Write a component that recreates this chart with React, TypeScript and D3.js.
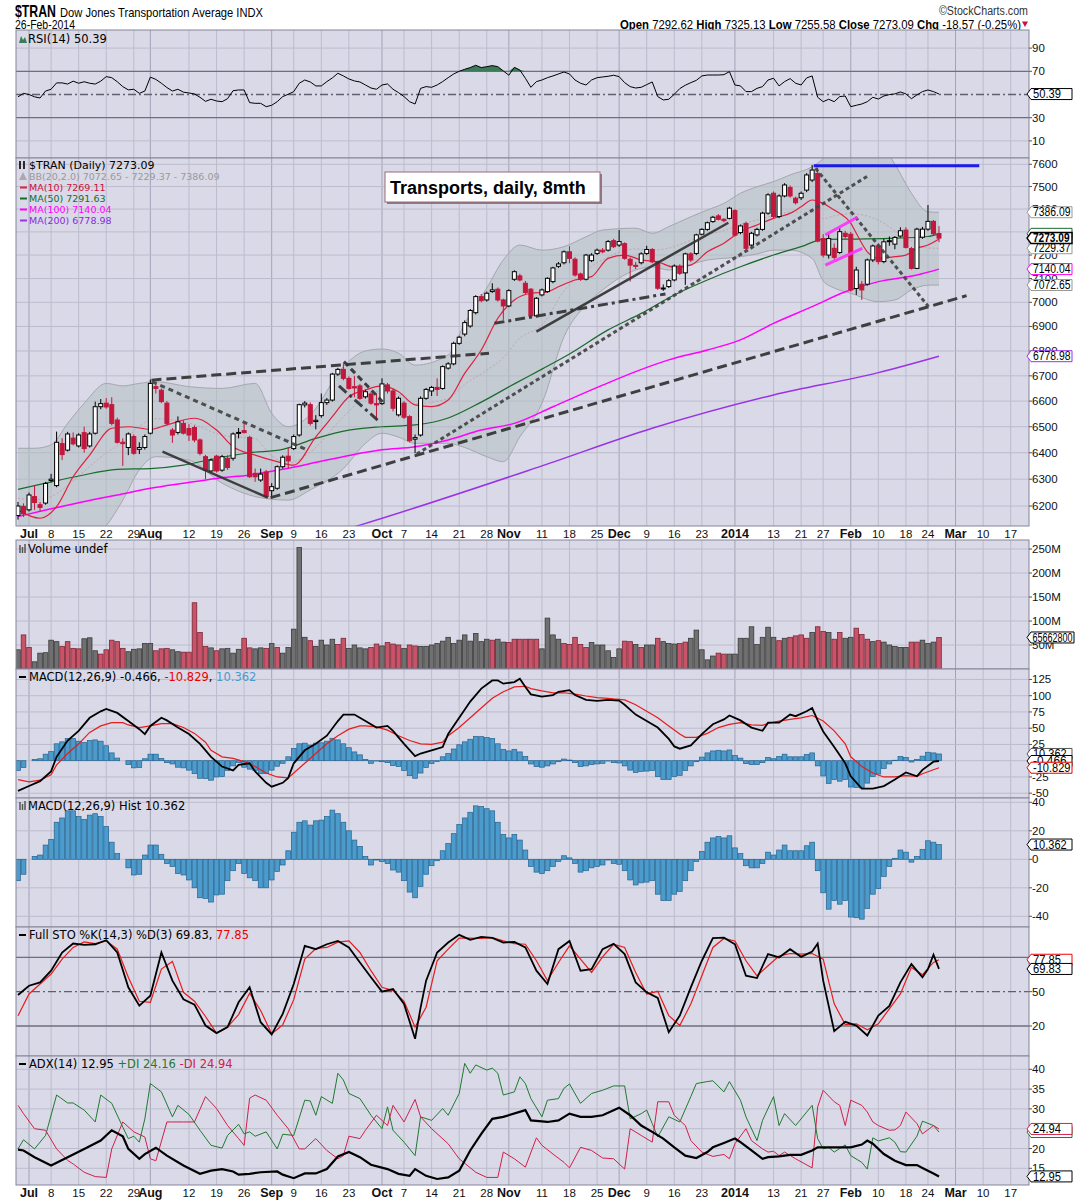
import React from 'react';
import * as d3 from 'd3';

// ---------------- calendar (session 0 = 2013-07-01) ----------------
const HOLIDAYS = ['2013-07-04', '2013-09-02', '2013-11-28', '2013-12-25', '2014-01-01', '2014-01-20', '2014-02-17'];
const fmt = d3.timeFormat('%Y-%m-%d');
const tradingDays: string[] = d3.timeDay
  .range(new Date(2013, 5, 27), new Date(2014, 2, 22))
  .filter((d) => d.getDay() !== 0 && d.getDay() !== 6 && !HOLIDAYS.includes(fmt(d)))
  .map((d) => fmt(d));
const sessionOf = (date: string) => tradingDays.indexOf(date) - 2;

// ---------------- x-axis ticks ----------------
const tickDates = ['2013-07-01', '2013-07-08', '2013-07-15', '2013-07-22', '2013-07-29', '2013-08-01', '2013-08-12', '2013-08-19', '2013-08-26', '2013-09-03', '2013-09-09', '2013-09-16', '2013-09-23', '2013-10-01', '2013-10-07', '2013-10-14', '2013-10-21', '2013-10-28', '2013-11-01', '2013-11-11', '2013-11-18', '2013-11-25', '2013-12-02', '2013-12-09', '2013-12-16', '2013-12-23', '2014-01-02', '2014-01-13', '2014-01-21', '2014-01-27', '2014-02-03', '2014-02-10', '2014-02-18', '2014-02-24', '2014-03-03', '2014-03-10', '2014-03-17'];
const tickLabels = ['Jul', '8', '15', '22', '29', 'Aug', '12', '19', '26', 'Sep', '9', '16', '23', 'Oct', '7', '14', '21', '28', 'Nov', '11', '18', '25', 'Dec', '9', '16', '23', '2014', '13', '21', '27', 'Feb', '10', '18', '24', 'Mar', '10', '17'];

// ---------------- daily OHLC (sessions -2 .. 165) ----------------
const opens = [
  6165, 6199, 6186, 6235, 6205, 6211, 6295, 6276, 6435, 6410,
  6456, 6426, 6477, 6426, 6475, 6578, 6592, 6586, 6526, 6440,
  6420, 6462, 6413, 6420, 6475, 6657, 6643, 6592, 6487, 6478,
  6513, 6493, 6497, 6449, 6385, 6331, 6387, 6334, 6379, 6379,
  6475, 6485, 6459, 6322, 6297, 6327, 6257, 6266, 6347, 6387,
  6416, 6468, 6585, 6586, 6520, 6543, 6594, 6604, 6707, 6726,
  6690, 6657, 6660, 6617, 6628, 6590, 6590, 6664, 6640, 6546,
  6592, 6539, 6452, 6468, 6611, 6640, 6654, 6650, 6731, 6748,
  6831, 6869, 6902, 6957, 7024, 7010, 7045, 7055, 7010, 6985,
  7097, 7111, 7080, 7055, 6944, 7031, 7045, 7087, 7152, 7167,
  7214, 7182, 7119, 7097, 7176, 7207, 7221, 7221, 7262, 7243,
  7249, 7182, 7156, 7167, 7207, 7224, 7171, 7057, 7066, 7094,
  7153, 7124, 7205, 7207, 7290, 7311, 7345, 7370, 7355, 7359,
  7393, 7297, 7337, 7243, 7287, 7311, 7382, 7470, 7367, 7458,
  7496, 7448, 7450, 7484, 7529, 7559, 7271, 7200, 7229, 7211,
  7294, 7290, 7058, 7076, 7076, 7179, 7239, 7172, 7258, 7247,
  7282, 7308, 7228, 7143, 7277, 7312, 7346, 7292.62,
];
const highs = [
  6215, 6210, 6250, 6278, 6215, 6290, 6320, 6481, 6456, 6480,
  6478, 6475, 6500, 6480, 6598, 6608, 6612, 6615, 6535, 6455,
  6478, 6470, 6440, 6470, 6685, 6672, 6650, 6600, 6495, 6540,
  6525, 6510, 6505, 6455, 6392, 6378, 6392, 6392, 6390, 6478,
  6495, 6519, 6465, 6340, 6340, 6335, 6285, 6352, 6390, 6420,
  6470, 6590, 6600, 6595, 6545, 6630, 6612, 6712, 6732, 6750,
  6698, 6700, 6668, 6645, 6635, 6630, 6690, 6672, 6648, 6618,
  6600, 6545, 6470, 6618, 6652, 6660, 6690, 6742, 6755, 6838,
  6862, 6925, 6972, 7030, 7035, 7045, 7080, 7062, 7015, 7055,
  7135, 7120, 7090, 7060, 7022, 7058, 7105, 7150, 7170, 7220,
  7238, 7190, 7125, 7205, 7208, 7228, 7230, 7265, 7270, 7308,
  7255, 7190, 7170, 7212, 7240, 7230, 7176, 7075, 7098, 7160,
  7160, 7210, 7212, 7292, 7316, 7345, 7370, 7378, 7360, 7410,
  7400, 7332, 7345, 7300, 7318, 7388, 7470, 7478, 7465, 7515,
  7505, 7455, 7478, 7560, 7597, 7585, 7290, 7290, 7250, 7320,
  7305, 7300, 7150, 7090, 7185, 7245, 7250, 7270, 7280, 7282,
  7320, 7320, 7235, 7318, 7322, 7418, 7352, 7325.13,
];
const lows = [
  6150, 6160, 6180, 6186, 6180, 6205, 6288, 6270, 6372, 6405,
  6428, 6420, 6400, 6420, 6470, 6568, 6570, 6505, 6435, 6350,
  6391, 6392, 6395, 6412, 6470, 6630, 6592, 6505, 6438, 6470,
  6470, 6445, 6440, 6390, 6300, 6325, 6325, 6328, 6335, 6370,
  6455, 6475, 6305, 6290, 6290, 6230, 6228, 6260, 6340, 6340,
  6410, 6462, 6575, 6505, 6490, 6535, 6585, 6598, 6700, 6682,
  6645, 6615, 6605, 6610, 6585, 6530, 6585, 6630, 6560, 6540,
  6530, 6440, 6398, 6462, 6605, 6620, 6620, 6645, 6725, 6742,
  6825, 6860, 6895, 6950, 7000, 7003, 7040, 7003, 6927, 6980,
  7090, 7088, 7035, 6938, 6938, 7025, 7040, 7080, 7145, 7160,
  7165, 7108, 7090, 7092, 7170, 7200, 7208, 7215, 7230, 7235,
  7180, 7087, 7140, 7160, 7200, 7165, 7052, 7048, 7060, 7088,
  7115, 7073, 7170, 7200, 7285, 7305, 7340, 7350, 7342, 7355,
  7280, 7290, 7222, 7237, 7280, 7305, 7375, 7360, 7360, 7452,
  7450, 7420, 7440, 7475, 7520, 7255, 7190, 7185, 7180, 7205,
  7270, 7045, 7031, 7010, 7070, 7170, 7160, 7165, 7240, 7225,
  7275, 7228, 7138, 7140, 7270, 7305, 7285, 7255.58,
];
const closes = [
  6200, 6171, 6241, 6213, 6195, 6284, 6300, 6440, 6393, 6472,
  6434, 6468, 6416, 6472, 6578, 6590, 6577, 6513, 6440, 6435,
  6472, 6398, 6420, 6462, 6670, 6650, 6598, 6513, 6468, 6519,
  6475, 6468, 6449, 6398, 6334, 6372, 6331, 6385, 6344, 6472,
  6478, 6477, 6309, 6309, 6319, 6235, 6272, 6347, 6383, 6369,
  6462, 6586, 6592, 6513, 6525, 6594, 6604, 6707, 6726, 6690,
  6650, 6652, 6611, 6637, 6592, 6585, 6668, 6640, 6572, 6611,
  6537, 6446, 6458, 6611, 6646, 6654, 6646, 6737, 6748, 6831,
  6856, 6916, 6966, 7024, 7007, 7038, 7052, 7010, 6985, 7049,
  7129, 7094, 7041, 6944, 7017, 7052, 7101, 7145, 7162, 7214,
  7186, 7115, 7097, 7200, 7200, 7221, 7214, 7258, 7236, 7258,
  7186, 7157, 7152, 7205, 7224, 7171, 7059, 7060, 7091, 7153,
  7122, 7205, 7179, 7287, 7311, 7340, 7364, 7355, 7349, 7404,
  7286, 7326, 7229, 7294, 7311, 7382, 7463, 7367, 7458, 7507,
  7458, 7428, 7470, 7552, 7574, 7260, 7200, 7271, 7190, 7301,
  7280, 7052, 7136, 7052, 7179, 7239, 7172, 7257, 7262, 7276,
  7305, 7233, 7143, 7312, 7312, 7346, 7291.66, 7273.09,
];

// volume in millions, with up (g) / down (r) flags
const volumes = [
  40, 71, 45, 15, 33, 34, 60, 57, 47, 57,
  43, 42, 63, 65, 38, 31, 40, 60, 57, 43,
  36, 41, 42, 53, 53, 38, 42, 43, 40, 36,
  35, 35, 138, 76, 47, 44, 38, 42, 43, 33,
  41, 64, 44, 42, 44, 43, 53, 45, 33, 45,
  83, 253, 66, 59, 47, 60, 50, 62, 51, 64,
  43, 50, 44, 42, 45, 52, 48, 55, 52, 50,
  43, 50, 48, 47, 47, 50, 53, 58, 66, 53,
  60, 71, 58, 74, 57, 62, 60, 62, 56, 55,
  62, 62, 62, 62, 62, 42, 106, 71, 62, 53,
  51, 66, 51, 45, 55, 50, 50, 38, 24, 42,
  58, 57, 51, 45, 50, 50, 64, 57, 53, 52,
  53, 56, 64, 81, 40, 19, 27, 33, 31, 31,
  31, 64, 64, 88, 51, 66, 87, 66, 59, 64,
  66, 69, 71, 64, 76, 88, 78, 76, 62, 76,
  64, 66, 85, 72, 62, 57, 59, 56, 50, 47,
  45, 45, 56, 56, 60, 53, 56, 65.6628,
];
const volumeDirection = (
  'grrgggggrr' + 'rrgggrrrrr' + 'gggggrrrgg' + 'rrrrrgrggg' + 'grrggrgrgg' +
  'gggrggggrr' + 'ggggrrgrrr' + 'grrggggggg' + 'ggggggrggr' + 'rrrrrggggr' +
  'rrrrgggggg' + 'rrgrggrggg' + 'rrgggggrrg' + 'ggggggggrg' + 'rrrrgrrgrr' +
  'ggrrrgrggg' + 'ggrrgggr'
).split('');

// ---------------- indicators ----------------
const rsiValues = [
  48, 51, 50, 48, 47, 53, 54.5, 60, 60, 59,
  61.5, 59.7, 61, 59.7, 59, 61.5, 65.4, 64.5, 61, 56.8,
  54, 54.5, 51, 53, 65, 63, 59.7, 56, 53, 54.5,
  52, 51.3, 50.5, 47.6, 44.1, 45.9, 44.4, 43.8, 46.4, 53.3,
  53.9, 53.9, 43, 42.4, 42.4, 39.5, 40.7, 43.8, 48.2, 50.2,
  52.5, 59.7, 62.5, 60.8, 57.4, 57.4, 61.1, 64.3, 68.3, 66,
  63.4, 61.7, 60.8, 58.2, 55.6, 54.5, 58.2, 59.1, 54.5, 51.6,
  48.2, 43.8, 41.8, 55.3, 56.8, 56.2, 58.2, 61.1, 64.5, 67.7,
  70, 71.7, 73.2, 75.2, 73.2, 74, 74.9, 74, 70.3, 66.6,
  73.4, 71.1, 64, 56.2, 61.1, 62.5, 64.5, 66, 67.7, 69.4,
  67.7, 62.5, 59.7, 58.2, 62.5, 64.5, 65.1, 65.7, 66.6, 65.4,
  60.2, 56.8, 55.6, 56.2, 58.5, 60.8, 48.2, 45.3, 45.9, 50.2,
  55.1, 58, 60.2, 62.2, 66, 66.8, 66.8, 66.8, 67.1, 69.7,
  58.2, 57.4, 52.5, 52.5, 55.3, 56.8, 62.5, 64, 57.4, 61.1,
  63.7, 59.7, 58.2, 64.3, 66, 47.6, 43.8, 45.9, 43.8, 48.2,
  48.7, 39.5, 40.7, 41.8, 43.8, 47.6, 46.1, 48.7, 49.9, 50.5,
  52.2, 50.5, 46.4, 49.6, 52.5, 53.9, 52.5, 50.39,
];
const macdHist = [
  -15, -10.5, 0, 2, 3, 10, 14, 26, 29, 34,
  34, 30, 28, 31, 32, 30, 23, 12, 4, 0,
  -6, -11, -10.5, 3, 10, 10, 3.5, -3, -5, -10,
  -11, -14.5, -20, -27, -27.5, -30, -25, -24.5, -15, -8,
  -3, -10, -13, -15, -20, -20, -14.5, -8.5, -4, 6,
  19, 26, 27, 24, 27, 27.5, 30, 34.5, 32, 26,
  20, 13.5, 9, 2, -4, -0.5, -1.5, -3, -7.5, -9,
  -15, -23, -27, -19, -10.5, -4.5, -1, 6, 11, 18,
  24.5, 29, 33, 37.5, 37, 35.5, 34, 26, 17.5, 15,
  17.5, 13.5, 6.5, -5, -9, -10, -8, -5, -1.5, 2.5,
  1, -3, -9, -8, -6, -5, -4, -0.5, -3, -3.5,
  -8, -14.5, -18, -16.5, -16, -15, -24.5, -29, -29, -24.5,
  -22.5, -15, -8, -1.5, 5.5, 12, 15, 16, 15, 16.5,
  8, 4, -4.5, -6, -6, -3, 5, 3, 6.5, 10,
  6, 6, 6, 9.5, 12, -8, -23.5, -35, -29, -31.5,
  -29, -40.5, -41, -42, -34.5, -24.5, -20.5, -12, -5, 0.7,
  6.5, 5, -2, 2, 7, 13, 12, 10.362,
];

type Pt = [number, number]; // [session, value]

const macdLine: Pt[] = [[-2, -46.5], [0, -39], [2, -31.5], [4, -16.5], [5, 6], [7, 31], [9, 46], [11, 66], [13, 76], [14, 79.5], [16, 73.5], [18, 61], [20, 48.5], [21, 41], [22, 53.5], [24, 66], [25, 62], [27, 51], [29, 41], [31, 26], [33, 6], [35, -9], [37, -15], [38, -6.5], [40, -4], [41, -16.5], [43, -34], [44, -40], [46, -34], [47, -26.5], [48, -4], [50, 16], [52, 26], [54, 38.5], [56, 61], [57, 71], [59, 71], [61, 61], [63, 51], [65, 53.5], [66, 46], [68, 26], [70, 7], [71, 11], [73, 16], [75, 21], [76, 41], [78, 66], [80, 91], [82, 111], [84, 123.5], [85, 123.5], [86, 118.5], [88, 121], [89, 126], [90, 113.5], [91, 102], [93, 98.5], [95, 101], [96, 106], [98, 108.5], [99, 101], [101, 93.5], [103, 92], [105, 93.5], [107, 92.5], [108, 86], [110, 71], [112, 61], [114, 51], [116, 33.5], [117, 22], [118, 18.5], [120, 23.5], [122, 41], [124, 56], [126, 63.5], [127, 69.5], [129, 62], [131, 51], [133, 46], [134, 58.5], [136, 58.5], [138, 71], [139, 68.5], [141, 76], [142, 81], [143, 62], [144, 45], [146, 21], [148, -4], [149, -24], [151, -43], [153, -43], [155, -39], [157, -29], [159, -18], [161, -24], [162, -14], [164, -1.5], [165, -0.466]];
const macdSignal: Pt[] = [[-2, -29], [0, -32.5], [2, -30], [4, -21.5], [5, -6.5], [7, 11], [9, 26], [11, 43.5], [13, 53.5], [15, 58.5], [17, 58.5], [18, 55], [20, 51], [22, 53.5], [24, 57], [26, 57], [28, 51], [30, 42], [32, 28.5], [33, 16], [35, 6], [37, 3.5], [39, -1.5], [41, -9], [43, -19], [45, -25], [47, -26.5], [48, -19], [50, -4], [52, 11], [54, 26], [56, 38.5], [58, 48.5], [60, 53.5], [61, 53.5], [63, 52], [65, 47], [67, 38.5], [69, 31], [71, 26], [73, 25], [75, 28.5], [76, 38.5], [78, 51], [80, 66], [82, 81], [84, 96], [86, 106], [88, 113.5], [90, 114.5], [91, 111], [93, 107.5], [95, 104.5], [97, 104.5], [99, 102.5], [101, 99.5], [103, 97], [105, 96], [106, 95], [108, 93.5], [110, 86], [112, 76], [114, 66], [116, 53.5], [118, 41], [119, 36], [121, 36], [123, 42], [125, 51], [127, 56], [129, 58.5], [131, 55], [133, 54.5], [134, 57.5], [136, 61], [138, 63.5], [140, 66], [142, 69.5], [144, 61], [146, 46], [148, 26], [149, 6], [151, -9], [153, -19], [155, -25], [157, -25], [159, -23], [161, -24], [162, -20], [164, -14], [165, -10.829]];

const stoK: Pt[] = [[-2, 47.1], [0, 55.2], [2, 58.1], [4, 68.3], [6, 84.2], [8, 92], [10, 90.9], [12, 91.4], [14, 94.9], [16, 84.2], [18, 53.8], [20, 37.8], [22, 46.5], [24, 84.2], [26, 59.6], [28, 43.3], [30, 38.7], [32, 20.4], [34, 13.8], [36, 19], [38, 40.7], [40, 53.8], [42, 23.3], [44, 12.6], [46, 30.6], [48, 56.7], [50, 90], [52, 87.1], [54, 91.4], [56, 94.3], [58, 88.6], [60, 75.5], [62, 62.5], [64, 50], [66, 52.3], [68, 39.3], [70, 8.8], [71, 36], [72, 59.6], [74, 84.2], [76, 92.9], [78, 99.6], [80, 95.2], [82, 97.8], [84, 97], [86, 92.9], [88, 93.5], [90, 88.6], [92, 68.3], [94, 56.7], [96, 87.1], [98, 94.3], [100, 68.3], [102, 69.7], [104, 87.1], [106, 91.7], [108, 82.8], [110, 58.1], [112, 49.4], [114, 44.5], [116, 14.6], [118, 29.1], [120, 53.8], [122, 77], [124, 96.7], [126, 97.2], [128, 91.4], [130, 63.9], [132, 61.9], [134, 82.8], [136, 79.9], [138, 87.1], [140, 80.4], [142, 85.1], [143, 92], [144, 59.6], [146, 15.5], [148, 23.6], [150, 20.4], [152, 11.7], [154, 29.1], [156, 37.5], [158, 58.1], [160, 74.1], [162, 62.5], [163, 69.7], [164, 82.2], [165, 69.83]];
const stoD: Pt[] = [[-2, 29], [0, 48], [2, 56.7], [4, 65.4], [6, 78.4], [8, 88.6], [10, 93.5], [12, 92], [14, 94.3], [16, 87.1], [18, 62.5], [20, 41.6], [22, 40.7], [24, 69.7], [26, 76.4], [28, 49.4], [30, 41.6], [32, 28.3], [34, 13.8], [36, 19], [38, 30], [40, 48.6], [42, 33.5], [44, 13.2], [46, 21], [48, 43], [50, 78.4], [52, 87.7], [54, 88.6], [56, 93.2], [58, 94.3], [60, 84.2], [62, 68.3], [64, 53.8], [66, 50.9], [68, 41.6], [70, 19], [72, 36.4], [74, 77], [76, 87.1], [78, 96.7], [80, 96.7], [82, 96.4], [84, 97.2], [86, 94.3], [88, 92], [90, 91.4], [92, 77], [94, 59.6], [96, 75.5], [98, 90], [100, 78.4], [102, 66.8], [104, 80.4], [106, 91.4], [108, 88.6], [110, 66.8], [112, 48], [114, 50.3], [116, 29.1], [118, 20.4], [120, 39.3], [122, 63.9], [124, 88.6], [126, 96.4], [128, 94.3], [130, 77], [132, 63.9], [134, 72.6], [136, 81], [138, 83.3], [140, 82.8], [142, 83.3], [144, 78.4], [146, 39.3], [148, 21.3], [150, 21.9], [152, 16.7], [154, 21.9], [156, 34.9], [158, 48], [160, 71.2], [162, 64.8], [164, 75.5], [165, 77.85]];

const adxLine: Pt[] = [[-2, 19.7], [-1, 19.5], [1, 17.8], [4, 15.7], [7, 17.8], [10, 19.9], [13, 22], [15, 24.6], [17, 23.1], [18, 19.9], [20, 17.4], [21, 18.6], [23, 20.2], [25, 18.2], [28, 15.7], [31, 13.6], [33, 14.4], [35, 14.8], [37, 14.2], [38, 13.4], [40, 13.6], [42, 14], [45, 14.2], [46, 13.4], [48, 12.5], [50, 13.7], [52, 13.7], [54, 14.8], [56, 18], [58, 19.1], [60, 17.8], [62, 15.9], [65, 14.8], [67, 13.6], [69, 13.1], [70, 14.8], [72, 13.1], [74, 12.3], [76, 12.7], [78, 14.4], [80, 19.5], [82, 23.7], [84, 27.5], [86, 28], [90, 29.7], [91, 27.1], [94, 26.7], [96, 27.1], [98, 28.8], [100, 28], [102, 28], [104, 28.4], [107, 30.3], [109, 28.4], [111, 25.8], [113, 24.2], [115, 22.5], [117, 20.3], [119, 18.2], [121, 17.6], [123, 19.1], [124, 20.3], [126, 21.4], [128, 22.5], [129, 21.6], [131, 19.5], [133, 17.4], [134, 17.8], [136, 18], [138, 18.4], [140, 18.4], [142, 19.5], [143, 20.3], [145, 20.3], [147, 20.3], [149, 20.3], [151, 21], [152, 22], [153, 21.2], [155, 18.6], [157, 16.9], [159, 15.8], [161, 15.8], [162, 15.1], [164, 13.7], [165, 12.95]];
const plusDI: Pt[] = [[-2, 19.9], [-1, 22.2], [1, 19.9], [3, 23.3], [5, 33.5], [7, 31.5], [8, 31.5], [10, 29.7], [12, 26.7], [13, 33.5], [15, 31.4], [17, 25.4], [18, 22.5], [19, 23.1], [20, 21.6], [21, 27.5], [22, 36.4], [24, 34.3], [26, 28], [27, 30.9], [29, 28.6], [31, 24.6], [33, 20.8], [35, 20.1], [36, 23.3], [38, 26.1], [39, 23.7], [40, 24.2], [41, 23.1], [43, 24.2], [45, 19.9], [46, 23.6], [48, 23.3], [50, 32.2], [51, 32], [52, 28.4], [53, 33.1], [55, 31.4], [56, 39], [57, 37.3], [58, 33.9], [60, 32.6], [62, 28.4], [64, 25], [65, 30.5], [66, 24.6], [68, 21.6], [70, 18.2], [71, 28], [73, 27.1], [75, 30.1], [76, 28.4], [78, 33.9], [79, 41.5], [80, 39], [81, 41.1], [83, 39.8], [84, 40.3], [85, 39], [86, 33.5], [88, 34.3], [89, 38.1], [90, 36.4], [91, 32.6], [93, 28], [94, 32.2], [96, 32.6], [97, 35.2], [98, 36.3], [100, 31.4], [102, 33.9], [104, 34.7], [106, 35.8], [108, 35.8], [109, 27.5], [111, 28.8], [112, 29.7], [113, 26.3], [114, 22.9], [116, 28], [118, 26.7], [120, 33.1], [121, 36.4], [123, 36.9], [124, 37.1], [126, 34.3], [127, 36.9], [129, 32.2], [130, 28], [132, 22], [133, 27.1], [135, 33.1], [136, 25.8], [137, 28.8], [139, 25.8], [141, 29.2], [142, 30.9], [143, 22.5], [144, 19.9], [145, 20.3], [146, 19.1], [148, 20.9], [149, 18.2], [151, 16.5], [152, 14.8], [153, 22.7], [154, 21.9], [156, 22.7], [157, 21.6], [158, 19.2], [159, 19.1], [161, 23.1], [162, 26.9], [164, 25.8], [165, 24.16]];
const minusDI: Pt[] = [[-2, 30.9], [-1, 28.8], [1, 25], [3, 24.6], [5, 19.9], [7, 17], [8, 16.1], [10, 14], [12, 12.9], [14, 12.7], [15, 19.9], [17, 26.7], [19, 24.2], [21, 22.9], [22, 17.4], [23, 16.9], [25, 26.7], [26, 26.7], [28, 26.7], [30, 26.7], [32, 33.1], [34, 30.1], [36, 25.8], [38, 22.5], [39, 20.8], [40, 32.7], [41, 33.5], [43, 32.2], [45, 28.4], [47, 25], [49, 19.9], [50, 19.9], [52, 22.5], [54, 19.5], [56, 17.4], [57, 18.2], [58, 23.1], [60, 22.5], [61, 24.6], [63, 28.4], [65, 25.8], [66, 30.9], [68, 26.7], [70, 32.4], [71, 28], [73, 25], [76, 21.2], [78, 17.4], [81, 14], [83, 12.7], [85, 12.7], [86, 19.1], [88, 17.4], [90, 15.3], [92, 22.7], [93, 20.8], [95, 18.6], [97, 16.5], [98, 15.1], [100, 20.3], [102, 19.5], [104, 17.6], [106, 17.4], [108, 14.8], [109, 25], [111, 23.3], [113, 21.6], [114, 31.8], [116, 31.8], [117, 28.4], [119, 25.8], [120, 22], [122, 19.1], [124, 18], [126, 18.5], [127, 17.4], [128, 21.2], [130, 25], [131, 22], [133, 19.9], [134, 19.1], [135, 19.3], [136, 18.2], [137, 19.1], [139, 17.4], [142, 15.1], [143, 30.5], [144, 34.7], [146, 31.8], [147, 30.9], [148, 25.8], [149, 32.2], [151, 30.9], [152, 29.2], [153, 26.7], [154, 25.8], [156, 24.6], [157, 24.7], [158, 25.8], [159, 29.2], [161, 26.3], [162, 23.7], [164, 25.8], [165, 24.94]];

// ---------------- overlays on price ----------------
const ma10: Pt[] = [[-2, 6185], [2, 6155], [5, 6198], [8, 6309], [11, 6391], [15, 6494], [18, 6500], [22, 6490], [25, 6507], [30, 6533], [34, 6487], [37, 6423], [41, 6391], [45, 6366], [48, 6353], [52, 6461], [55, 6539], [58, 6617], [61, 6644], [64, 6660], [67, 6637], [70, 6585], [73, 6578], [76, 6604], [79, 6710], [82, 6804], [85, 6934], [88, 7010], [91, 7038], [94, 7044], [96, 7065], [99, 7094], [102, 7108], [105, 7186], [108, 7200], [111, 7179], [114, 7171], [117, 7148], [120, 7157], [123, 7214], [126, 7251], [129, 7301], [132, 7330], [135, 7359], [138, 7381], [140, 7410], [142, 7440], [144, 7425], [146, 7396], [147, 7381], [149, 7338], [150, 7294], [152, 7214], [154, 7186], [157, 7193], [159, 7200], [161, 7229], [163, 7243], [165, 7269.11]];
const ma50: Pt[] = [[-2, 6262], [3, 6285], [9, 6312], [16, 6337], [22, 6340], [28, 6353], [34, 6379], [40, 6400], [46, 6413], [52, 6455], [58, 6487], [64, 6500], [70, 6507], [76, 6534], [82, 6596], [88, 6668], [93, 6727], [98, 6788], [105, 6886], [111, 6954], [117, 7031], [123, 7094], [129, 7150], [135, 7200], [140, 7236], [144, 7268], [150, 7269], [156, 7272], [163, 7280], [165, 7291.63]];
const ma100: Pt[] = [[-2, 6161], [3, 6185], [9, 6212], [16, 6241], [22, 6266], [28, 6285], [34, 6303], [40, 6316], [46, 6337], [54, 6372], [64, 6411], [70, 6423], [76, 6449], [82, 6487], [88, 6513], [95, 6578], [104, 6663], [110, 6717], [116, 6764], [123, 6804], [129, 6845], [135, 6913], [142, 6982], [148, 7044], [154, 7087], [161, 7115], [165, 7140.04]];
const ma200: Pt[] = [[55, 6100], [60, 6130], [93, 6350], [113, 6494], [135, 6624], [154, 6713], [165, 6778.98]];

const bbSessions = [-2, 1, 4, 7, 10, 14, 17, 20, 23, 29, 35, 41, 44, 47, 51, 57, 61, 64, 67, 70, 76, 79, 83, 86, 89, 93, 97, 101, 104, 110, 113, 116, 120, 123, 126, 129, 132, 135, 138, 142, 144, 146, 149, 154, 157, 160, 163, 165];
const bbUpper = [6417, 6417, 6430, 6513, 6591, 6670, 6660, 6670, 6677, 6657, 6650, 6670, 6552, 6500, 6546, 6737, 6800, 6808, 6791, 6743, 6784, 6913, 7060, 7179, 7243, 7221, 7236, 7279, 7308, 7316, 7294, 7323, 7366, 7396, 7425, 7470, 7499, 7522, 7552, 7589, 7625, 7680, 7720, 7700, 7600, 7470, 7388, 7386.09];
const bbLower = [6040, 6030, 6040, 6040, 6070, 6128, 6222, 6335, 6385, 6372, 6285, 6235, 6225, 6222, 6260, 6340, 6436, 6475, 6460, 6436, 6436, 6420, 6385, 6366, 6461, 6591, 6858, 6990, 7052, 7136, 7150, 7136, 7160, 7179, 7186, 7193, 7205, 7221, 7221, 7186, 7090, 7060, 7038, 7003, 7010, 7052, 7072, 7072.65];

// hand-drawn annotations, endpoints as [session, price]
const annotations: { id: string; a: Pt; b: Pt }[] = [
  { id: 'support', a: [43.8, 6231], b: [170, 7028] },
  { id: 'augTop', a: [22.2, 6683], b: [83.4, 6791] },
  { id: 'augDown', a: [22.3, 6677], b: [50.4, 6411] },
  { id: 'augSolid', a: [24.2, 6404], b: [43.3, 6231] },
  { id: 'sepUpper', a: [57.1, 6757], b: [64.4, 6591] },
  { id: 'sepLower', a: [56.2, 6660], b: [63.2, 6526] },
  { id: 'octRise', a: [70.3, 6395], b: [152.4, 7552] },
  { id: 'novSolid', a: [92, 6879], b: [126.8, 7340] },
  { id: 'novDashDot', a: [84.4, 6913], b: [115.4, 7035] },
  { id: 'janDown', a: [142.6, 7582], b: [163.1, 6982] },
  { id: 'resistance', a: [142.3, 7594], b: [172.3, 7594] },
  { id: 'flagTop', a: [144.4, 7287], b: [150.2, 7364] },
  { id: 'flagBottom', a: [144.4, 7157], b: [151.1, 7229] },
];

const priceTicks = [6200, 6300, 6400, 6500, 6600, 6700, 6800, 6900, 7000, 7100, 7200, 7400, 7500, 7600];

// ---------------- styling ----------------
const FONT = "'DejaVu Sans',Verdana,sans-serif";
const NUM = "'Liberation Sans',Arial,sans-serif";
const BG = '#d9d9e7';
const GRID = '#bcbccd';
const GRID_M = '#a3a3b8';
const FRAME = '#85859a';
const UPC = '#000';
const DNC = '#c3173c';

const annoStyle: Record<string, { c: string; w: number; d?: string }> = {
  support: { c: '#333', w: 3, d: '10 5' },
  augTop: { c: '#333', w: 3, d: '10 5' },
  augDown: { c: '#444', w: 3, d: '5 4' },
  augSolid: { c: '#333', w: 2.5 },
  sepUpper: { c: '#333', w: 3, d: '6 4' },
  sepLower: { c: '#333', w: 3, d: '10 4 3 4' },
  octRise: { c: '#444', w: 3, d: '4 3' },
  novSolid: { c: '#333', w: 2.5 },
  novDashDot: { c: '#333', w: 3, d: '10 4 3 4' },
  janDown: { c: '#444', w: 3, d: '4 3' },
  resistance: { c: '#0b0bee', w: 3 },
  flagTop: { c: '#ff33ff', w: 3 },
  flagBottom: { c: '#ff33ff', w: 3 },
};

export default function App() {
  const L = 16;
  const R = 1029;
  const x = d3.scaleLinear().domain([-2, 165]).range([18, 939]);
  const P: Record<string, [number, number]> = {
    rsi: [30, 158], main: [158, 526], vol: [540, 669], macd: [669, 798], hist: [798, 927], sto: [927, 1056], adx: [1056, 1185],
  };
  const yP = d3.scaleLog().domain([6126.7, 7628.6]).range([526, 158]);
  const yRsi = d3.scaleLinear().domain([30, 70]).range([117.7, 71.3]);
  const yVol = d3.scaleLinear().domain([0, 250]).range([669, 549]);
  const yMacd = d3.scaleLinear().domain([0, 100]).range([760.7, 695.7]);
  const yHist = d3.scaleLinear().domain([0, 40]).range([859.3, 802.3]);
  const ySto = d3.scaleLinear().domain([20, 80]).range([1026, 957.3]);
  const yAdx = d3.scaleLinear().domain([15, 40]).range([1168.3, 1069.3]);

  const daily = (arr: number[]): Pt[] => arr.map((v, i) => [i - 2, v] as Pt);
  const line = (y: any, curve: any = d3.curveLinear) =>
    d3.line<Pt>().x((d) => x(d[0])).y((d) => y(d[1])).curve(curve);

  const ticks = tickDates.map((d, i) => ({ s: sessionOf(d), label: tickLabels[i], month: isNaN(+tickLabels[i]) || tickLabels[i] === '2014' }));

  const n = closes.length;
  const lastClose = closes[n - 1];
  const chg = lastClose - closes[n - 2];
  const bbMid: Pt[] = bbSessions.map((s, i) => [s, (bbUpper[i] + bbLower[i]) / 2]);
  const bbMidLast = bbMid[bbMid.length - 1][1];
  const last = (a: Pt[]) => a[a.length - 1][1];

  const frame = (key: string, content: React.ReactNode, hLines: { v: number; y: number; kind?: string }[]) => {
    const [t, b] = P[key];
    return (
      <g key={key}>
        <rect x={L} y={t} width={R - L} height={b - t} fill={BG} />
        {ticks.map((tk, i) => (
          <line key={'v' + i} x1={x(tk.s)} x2={x(tk.s)} y1={t} y2={b} stroke={tk.month ? GRID_M : GRID} strokeWidth={1} />
        ))}
        {hLines.map((h, i) => (
          <line key={'h' + i} x1={L} x2={R} y1={h.y} y2={h.y}
            stroke={h.kind === 'dark' ? '#6e6e7e' : h.kind === 'dashdot' ? '#606070' : GRID}
            strokeWidth={h.kind ? 1.3 : 1}
            strokeDasharray={h.kind === 'dashdot' ? '8 3 2 3' : undefined} />
        ))}
        <clipPath id={'clip-' + key}>
          <rect x={L} y={t} width={R - L} height={b - t} />
        </clipPath>
        <g clipPath={`url(#clip-${key})`}>{content}</g>
        <rect x={L} y={t} width={R - L} height={b - t} fill="none" stroke={FRAME} strokeWidth={1} />
      </g>
    );
  };

  const axisLabels = (vals: { v: number; y: number; text: string }[]) =>
    vals.map((d, i) => (
      <g key={i}>
        <line x1={R} x2={R + 3} y1={d.y} y2={d.y} stroke="#555" />
        <text x={R + 3} y={d.y + 4} fontFamily={NUM} fontSize={11.5} fill="#111">{d.text}</text>
      </g>
    ));

  // value tag at the right edge; text omitted when the reference shows it hidden behind another tag
  const tag = (y: number, text: string | null, stroke: string, bold = false, key = '') => (
    <g key={key || text || 'tag'}>
      <path d={`M${R - 2},${y} L${R + 2},${y - 5.5} L${R + 43},${y - 5.5} L${R + 43},${y + 5.5} L${R + 2},${y + 5.5} Z`}
        fill="#fff" stroke={stroke} strokeWidth={bold ? 1.5 : 1} />
      {text !== null && (
        <text x={R + 4} y={y + 4.2} fontFamily={NUM} fontSize={bold ? 12.5 : 12} fontWeight={bold ? 'bold' : 'normal'} fill="#000"
          textLength={Math.min(bold ? 36.5 : 37.5, text.length * 5.6)} lengthAdjust="spacingAndGlyphs">{text}</text>
      )}
    </g>
  );

  const xLabels = (yy: number) =>
    ticks.map((tk, i) => (
      <text key={i} x={x(tk.s)} y={yy} textAnchor="middle" fontFamily={NUM}
        fontWeight={tk.month ? 'bold' : 'normal'} fontSize={tk.month ? 12.5 : 11.5} fill="#111">{tk.label}</text>
    ));

  const bw = 4;
  const candles = daily(closes).map(([s], i) => {
    const o = opens[i], h = highs[i], l = lows[i], c = closes[i];
    const up = c >= o;
    const cx = x(s);
    const yTop = yP(Math.max(o, c));
    const yBot = yP(Math.min(o, c));
    const col = up ? UPC : DNC;
    return (
      <g key={s}>
        <line x1={cx} x2={cx} y1={yP(h)} y2={yP(l)} stroke={col} strokeWidth={1} />
        <rect x={cx - bw / 2} y={yTop} width={bw} height={Math.max(1, yBot - yTop)}
          fill={up ? '#fff' : DNC} stroke={col} strokeWidth={1} />
      </g>
    );
  });

  const bbArea = d3.area<number>()
    .x((_, i) => x(bbSessions[i]))
    .y0((_, i) => yP(bbLower[i]))
    .y1((_, i) => yP(bbUpper[i]))
    .curve(d3.curveMonotoneX);
  const bbLine = d3.line<number>().x((_, i) => x(bbSessions[i])).y((d) => yP(d)).curve(d3.curveMonotoneX);

  const rsiPts = daily(rsiValues);
  const rsiFill = d3.area<Pt>().x((d) => x(d[0])).y0(yRsi(70)).y1((d) => yRsi(Math.max(70, d[1])));

  const histBars = (y: any) =>
    daily(macdHist).map(([s, v]) => (
      <rect key={s} x={x(s) - 2.4} width={4.8} y={Math.min(y(0), y(v))} height={Math.abs(y(v) - y(0))}
        fill="#4b9bcd" stroke="#23638f" strokeWidth={0.7} />
    ));

  const ICON = (yy: number, color: string) => <line x1={20} x2={27} y1={yy - 3.5} y2={yy - 3.5} stroke={color} strokeWidth={2} />;
  const volY = yVol(volumes[n - 1]);

  return (
    <svg width={1075} height={1200} viewBox="0 0 1075 1200" style={{ position: 'absolute', left: 0, top: 0, background: '#fff' }}>
      {/* header */}
      <text x={15} y={17} fontFamily={NUM} fontWeight="bold" fontSize={17} textLength={41} lengthAdjust="spacingAndGlyphs">$TRAN</text>
      <text x={60} y={17} fontFamily={NUM} fontSize={13} textLength={203} lengthAdjust="spacingAndGlyphs">Dow Jones Transportation Average INDX</text>
      <text x={15} y={28.5} fontFamily={NUM} fontSize={12} textLength={60} lengthAdjust="spacingAndGlyphs">26-Feb-2014</text>
      <text x={939} y={15} fontFamily={NUM} fontSize={12.5} fill="#333" textLength={89} lengthAdjust="spacingAndGlyphs">©StockCharts.com</text>
      <text x={620} y={28.5} fontFamily={NUM} fontSize={12.5} textLength={401} lengthAdjust="spacingAndGlyphs">
        <tspan fontWeight="bold">Open </tspan><tspan>{opens[n - 1].toFixed(2)} </tspan>
        <tspan fontWeight="bold">High </tspan><tspan>{highs[n - 1].toFixed(2)} </tspan>
        <tspan fontWeight="bold">Low </tspan><tspan>{lows[n - 1].toFixed(2)} </tspan>
        <tspan fontWeight="bold">Close </tspan><tspan>{lastClose.toFixed(2)} </tspan>
        <tspan fontWeight="bold">Chg </tspan><tspan>{chg.toFixed(2)} ({((chg / closes[n - 2]) * 100).toFixed(2)}%)</tspan>
      </text>
      <path d="M1022,21.5 L1028,21.5 L1025,27 Z" fill="#d0103a" />

      {/* RSI */}
      {frame('rsi', (
        <g>
          <path d={rsiFill(rsiPts) || ''} fill="#3c7a5a" />
          <path d={line(yRsi)(rsiPts) || ''} fill="none" stroke="#000" strokeWidth={1} />
        </g>
      ), [
        { v: 90, y: yRsi(90) }, { v: 10, y: yRsi(10) },
        { v: 70, y: yRsi(70), kind: 'dark' }, { v: 30, y: yRsi(30), kind: 'dark' },
        { v: 50, y: yRsi(50), kind: 'dashdot' },
      ])}
      <path d="M19,43 L21,36 L23,40 L25,37 L27,43 Z" fill="#3c7a5a" />
      <text x={28} y={43} fontFamily={FONT} fontSize={11.5}>RSI(14) {rsiValues[n - 1].toFixed(2)}</text>
      {axisLabels([90, 70, 30, 10].map((v) => ({ v, y: yRsi(v), text: String(v) })))}
      {tag(yRsi(rsiValues[n - 1]), rsiValues[n - 1].toFixed(2), '#000')}

      {/* main price panel */}
      {frame('main', (
        <g>
          <path d={bbArea(bbUpper) || ''} fill="#b3c0c2" fillOpacity={0.55} />
          <path d={bbLine(bbUpper) || ''} fill="none" stroke="#a6a6ae" strokeWidth={1} />
          <path d={bbLine(bbLower) || ''} fill="none" stroke="#a6a6ae" strokeWidth={1} />
          <path d={line(yP, d3.curveMonotoneX)(bbMid) || ''} fill="none" stroke="#c4a4b2" strokeWidth={1} strokeDasharray="2 2" />
          <path d={line(yP, d3.curveMonotoneX)(ma200) || ''} fill="none" stroke="#9a32e6" strokeWidth={1.5} />
          <path d={line(yP, d3.curveMonotoneX)(ma100) || ''} fill="none" stroke="#ff00ff" strokeWidth={1.5} />
          <path d={line(yP, d3.curveMonotoneX)(ma50) || ''} fill="none" stroke="#1a6b2a" strokeWidth={1.2} />
          <path d={line(yP, d3.curveMonotoneX)(ma10) || ''} fill="none" stroke="#e0203e" strokeWidth={1.2} />
          {candles}
          {annotations.map((a) => {
            const st = annoStyle[a.id];
            return (
              <line key={a.id} x1={x(a.a[0])} y1={yP(a.a[1])} x2={x(a.b[0])} y2={yP(a.b[1])}
                stroke={st.c} strokeWidth={st.w} strokeDasharray={st.d} strokeLinecap="butt" opacity={0.92} />
            );
          })}
        </g>
      ), [...priceTicks, 7300].map((v) => ({ v, y: yP(v) })))}
      {/* main legend */}
      <g fontFamily={FONT}>
        <path d="M20,161 v8 M24,161 v8" stroke="#000" strokeWidth={1.6} />
        <text x={29} y={169} fontSize={11}>$TRAN (Daily) {lastClose.toFixed(2)}</text>
        <path d="M19,180 L23,172 L27,180 Z" fill="#aaa" />
        <text x={29} y={180} fill="#9a9a9a" fontSize={9.5}>BB(20,2.0) {bbLower[bbLower.length - 1].toFixed(2)} - {bbMidLast.toFixed(2)} - {bbUpper[bbUpper.length - 1].toFixed(2)}</text>
        {ICON(191, '#e0203e')}
        <text x={29} y={191} fill="#d0103a" fontSize={9.5}>MA(10) {last(ma10).toFixed(2)}</text>
        {ICON(202, '#1a6b2a')}
        <text x={29} y={202} fill="#1a6b2a" fontSize={9.5}>MA(50) {last(ma50).toFixed(2)}</text>
        {ICON(213, '#ff00ff')}
        <text x={29} y={213} fill="#ff00ff" fontSize={9.5}>MA(100) {last(ma100).toFixed(2)}</text>
        {ICON(224, '#9a32e6')}
        <text x={29} y={224} fill="#8a2ae0" fontSize={9.5}>MA(200) {last(ma200).toFixed(2)}</text>
      </g>
      {/* title box */}
      <rect x={387} y={174} width={215} height={30} fill="#8a7a82" />
      <rect x={385} y={172} width={215} height={30} fill="#fff" stroke="#9a6a7a" strokeWidth={1} />
      <text x={390} y={194} fontFamily={NUM} fontWeight="bold" fontSize={18}>Transports, daily, 8mth</text>
      {axisLabels(priceTicks.map((v) => ({ v, y: yP(v), text: String(v) })))}
      {tag(yP(last(ma50)), null, '#1a6b2a', false, 'ma50tag')}
      {tag(yP(bbUpper[bbUpper.length - 1]), bbUpper[bbUpper.length - 1].toFixed(2), '#999', false, 'bbu')}
      {tag(yP(bbMidLast), bbMidLast.toFixed(2), '#999', false, 'bbm')}
      {tag(yP(lastClose), lastClose.toFixed(2), '#000', true, 'close')}
      {tag(yP(last(ma100)), last(ma100).toFixed(2), '#ff00ff', false, 'ma100')}
      {tag(yP(bbLower[bbLower.length - 1]), bbLower[bbLower.length - 1].toFixed(2), '#999', false, 'bbl')}
      {tag(yP(last(ma200)), last(ma200).toFixed(2), '#9a32e6', false, 'ma200')}

      {/* x labels between main and volume */}
      {xLabels(537.5)}

      {/* volume */}
      {frame('vol', (
        <g>
          {daily(volumes).map(([s, v], i) => (
            <rect key={s} x={x(s) - 2.3} width={4.6} y={yVol(v)} height={yVol(0) - yVol(v)}
              fill={volumeDirection[i] === 'r' ? '#c85468' : '#707070'}
              stroke={volumeDirection[i] === 'r' ? '#7e2436' : '#3a3a3a'} strokeWidth={0.8} />
          ))}
        </g>
      ), [50, 100, 150, 200, 250].map((v) => ({ v, y: yVol(v) })))}
      <path d="M20,553 v-8 M22.5,553 v-6 M25,553 v-9" stroke="#555" strokeWidth={1.5} />
      <text x={28} y={553} fontFamily={FONT} fontSize={11.5}>Volume undef</text>
      {axisLabels([50, 100, 150, 200, 250].map((v) => ({ v, y: yVol(v), text: v + 'M' })))}
      <g key="voltag">
        <path d={`M${R - 2},${volY} L${R + 2},${volY - 5.5} L${R + 45},${volY - 5.5} L${R + 45},${volY + 5.5} L${R + 2},${volY + 5.5} Z`} fill="#fff" stroke="#000" />
        <text x={R + 3.5} y={volY + 4.2} fontFamily={NUM} fontSize={12} textLength={40} lengthAdjust="spacingAndGlyphs">{String(Math.round(volumes[n - 1] * 1e6))}</text>
      </g>

      {/* MACD */}
      {frame('macd', (
        <g>
          {histBars(yMacd)}
          <path d={line(yMacd)(macdSignal) || ''} fill="none" stroke="#e81c1c" strokeWidth={1.2} />
          <path d={line(yMacd)(macdLine) || ''} fill="none" stroke="#000" strokeWidth={1.8} />
        </g>
      ), [-50, -25, 0, 25, 50, 75, 100, 125].map((v) => ({ v, y: yMacd(v) })))}
      <line x1={19} x2={26} y1={677} y2={677} stroke="#000" strokeWidth={2} />
      <text x={29} y={681} fontFamily={FONT} fontSize={11.5}>
        <tspan>MACD(12,26,9) {last(macdLine).toFixed(3)}, </tspan>
        <tspan fill="#e00">{last(macdSignal).toFixed(3)}</tspan>
        <tspan>, </tspan>
        <tspan fill="#4b9bcd">{macdHist[n - 1].toFixed(3)}</tspan>
      </text>
      {axisLabels([125, 100, 75, 50, 25, -25, -50].map((v) => ({ v, y: yMacd(v), text: String(v) })))}
      {tag(yMacd(macdHist[n - 1]), macdHist[n - 1].toFixed(3), '#555', false, 'mh')}
      {tag(yMacd(last(macdLine)), last(macdLine).toFixed(3), '#000', false, 'ml')}
      {tag(yMacd(last(macdSignal)), last(macdSignal).toFixed(3), '#e00', false, 'ms')}

      {/* MACD histogram */}
      {frame('hist', <g>{histBars(yHist)}</g>, [-40, -20, 0, 20, 40].map((v) => ({ v, y: yHist(v) })))}
      <path d="M20,810 v-8 M22.5,810 v-6 M25,810 v-9" stroke="#555" strokeWidth={1.5} />
      <text x={28} y={810} fontFamily={FONT} fontSize={11.5}>MACD(12,26,9) Hist {macdHist[n - 1].toFixed(3)}</text>
      {axisLabels([40, 20, 0, -20, -40].map((v) => ({ v, y: yHist(v), text: String(v) })))}
      {tag(yHist(macdHist[n - 1]), macdHist[n - 1].toFixed(3), '#000', false, 'hh')}

      {/* Full stochastics */}
      {frame('sto', (
        <g>
          <path d={line(ySto)(stoD) || ''} fill="none" stroke="#e81c1c" strokeWidth={1.2} />
          <path d={line(ySto)(stoK) || ''} fill="none" stroke="#000" strokeWidth={1.8} />
        </g>
      ), [
        { v: 80, y: ySto(80), kind: 'dark' }, { v: 20, y: ySto(20), kind: 'dark' }, { v: 50, y: ySto(50), kind: 'dashdot' },
      ])}
      <line x1={19} x2={26} y1={935} y2={935} stroke="#000" strokeWidth={2} />
      <text x={29} y={939} fontFamily={FONT} fontSize={11.5}>
        <tspan>Full STO %K(14,3) %D(3) {last(stoK).toFixed(2)}, </tspan>
        <tspan fill="#e00">{last(stoD).toFixed(2)}</tspan>
      </text>
      {axisLabels([50, 20].map((v) => ({ v, y: ySto(v), text: String(v) })))}
      {tag(ySto(last(stoD)), last(stoD).toFixed(2), '#e00', false, 'sd')}
      {tag(ySto(last(stoK)), last(stoK).toFixed(2), '#000', false, 'sk')}

      {/* ADX */}
      {frame('adx', (
        <g>
          <path d={line(yAdx)(plusDI) || ''} fill="none" stroke="#1f7a2f" strokeWidth={1} />
          <path d={line(yAdx)(minusDI) || ''} fill="none" stroke="#d0204a" strokeWidth={1} />
          <path d={line(yAdx)(adxLine) || ''} fill="none" stroke="#000" strokeWidth={2.2} />
        </g>
      ), [15, 20, 25, 30, 35, 40].map((v) => ({ v, y: yAdx(v) })))}
      <line x1={19} x2={26} y1={1064} y2={1064} stroke="#000" strokeWidth={2} />
      <text x={29} y={1068} fontFamily={FONT} fontSize={11.5}>
        <tspan>ADX(14) {last(adxLine).toFixed(2)} </tspan>
        <tspan fill="#1f7a2f">+DI {last(plusDI).toFixed(2)} </tspan>
        <tspan fill="#d0204a">-DI {last(minusDI).toFixed(2)}</tspan>
      </text>
      {axisLabels([40, 35, 30, 20, 15].map((v) => ({ v, y: yAdx(v), text: String(v) })))}
      {tag(yAdx(last(plusDI)), null, '#1f7a2f', false, 'pdi')}
      {tag(yAdx(last(minusDI)), last(minusDI).toFixed(2), '#d0204a', false, 'mdi')}
      {tag(yAdx(last(adxLine)), last(adxLine).toFixed(2), '#000', false, 'adx')}

      {xLabels(1197)}
    </svg>
  );
}
